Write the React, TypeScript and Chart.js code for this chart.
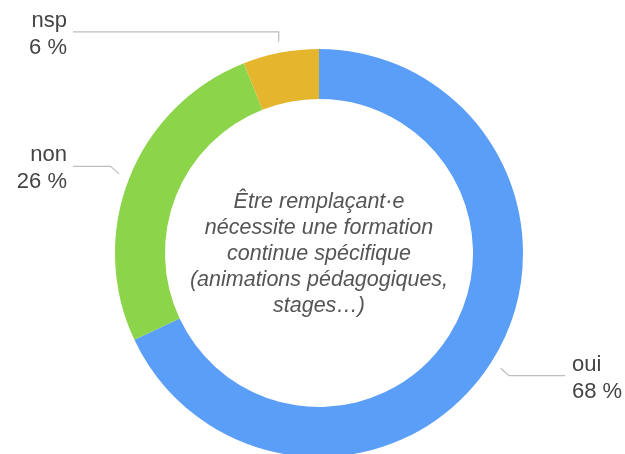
import React, { useEffect, useRef } from "react";
import { Chart, registerables } from "chart.js";

Chart.register(...registerables);

const categories = ["oui", "non", "nsp"];
const values = [68, 26, 6];
const percentLabels = ["68 %", "26 %", "6 %"];
const colors = ["#5A9EF8", "#8CD44A", "#E6B52E"];
const centerLines = [
  "Être remplaçant·e",
  "nécessite une formation",
  "continue spécifique",
  "(animations pédagogiques,",
  "stages…)",
];

const W = 625;
const H = 506;

const labelPlugin = {
  id: "calloutLabels",
  afterDraw(chart: any) {
    const ctx = chart.ctx as CanvasRenderingContext2D;
    const meta = chart.getDatasetMeta(0);
    ctx.save();
    ctx.fillStyle = "#555";
    ctx.font = "italic 21.5px 'Liberation Sans', Arial, sans-serif";
    ctx.textAlign = "center";
    ctx.textBaseline = "alphabetic";
    const first = meta.data[0];
    const cx = first.x;
    const cy = first.y;
    const lh = 26;
    const startY = cy - 45;
    centerLines.forEach((l, i) => ctx.fillText(l, cx, startY + i * lh));

    meta.data.forEach((arc: any, i: number) => {
      const mid = (arc.startAngle + arc.endAngle) / 2;
      const r = arc.outerRadius + 11;
      const x1 = arc.x + Math.cos(mid) * r;
      const y1 = arc.y + Math.sin(mid) * r;
      const c = Math.cos(mid);
      const s = Math.sin(mid);
      // elbow: vertical when near top, otherwise diagonal outward
      const ex = Math.abs(c) < 0.3 ? 0 : Math.sign(c) * 8.5;
      const ey = Math.abs(c) < 0.3 ? Math.sign(s) * 10 : Math.sign(s) * 7.5;
      const x2 = x1 + ex;
      const y2 = y1 + ey;
      const right = c > 0;
      const x3 = right ? 565 : 73;
      ctx.strokeStyle = "#bdbdbd";
      ctx.lineWidth = 1.2;
      ctx.beginPath();
      ctx.moveTo(x1, y1);
      ctx.lineTo(x2, y2);
      ctx.lineTo(x3, y2);
      ctx.stroke();
      ctx.fillStyle = "#444";
      ctx.font = "22px 'Liberation Sans', Arial, sans-serif";
      ctx.textAlign = right ? "left" : "right";
      const tx = right ? 572 : 67;
      ctx.fillText(categories[i], tx, y2 - 5);
      ctx.fillText(percentLabels[i], tx, y2 + 22);
    });
    ctx.restore();
  },
};

export default function App() {
  const ref = useRef<HTMLCanvasElement>(null);
  useEffect(() => {
    document.body.style.margin = "0";
    document.body.style.overflow = "hidden";
    const chart = new Chart(ref.current!, {
      type: "doughnut",
      data: {
        labels: categories,
        datasets: [
          {
            data: values,
            backgroundColor: colors,
            borderWidth: 0,
          },
        ],
      },
      options: {
        responsive: false,
        animation: false,
        cutout: "75.5%",
        layout: { padding: { left: 115, right: 102, top: 49, bottom: 49 } },
        plugins: {
          legend: { display: false },
          tooltip: { enabled: false },
        },
      },
      plugins: [labelPlugin],
    });
    return () => chart.destroy();
  }, []);
  return (
    <div
      style={{
        position: "fixed",
        left: 0,
        top: 0,
        width: 625,
        height: 454,
        overflow: "hidden",
        background: "#fff",
      }}
    >
      <canvas ref={ref} width={W} height={H} style={{ width: W, height: H, display: "block" }} />
    </div>
  );
}
